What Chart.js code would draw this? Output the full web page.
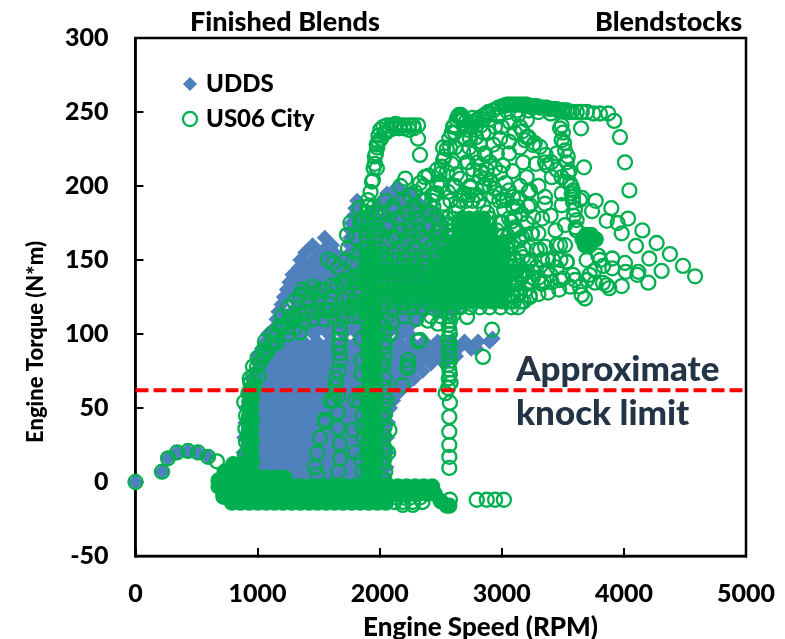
<!DOCTYPE html>
<html>
<head>
<meta charset="utf-8">
<script src="https://cdn.jsdelivr.net/npm/chart.js@4"></script>
<style>
  html, body { margin: 0; padding: 0; background: #fff; }
  #wrap { width: 785px; height: 639px; }
</style>
</head>
<body>
<div id="wrap"><canvas id="chart" width="785" height="639"></canvas></div>
<script>
const uddsBodyLow = [
  [0, 880,990,1100,1210,1320,1430,1540,1650,1760,1870,1980,2060],
  [5, 925,1045,1155,1265,1375,1485,1595,1705,1815,1925,2035],
  [10, 885,990,1100,1210,1320,1430,1540,1650,1760,1870,1980,2055],
  [15, 920,1045,1155,1265,1375,1485,1595,1705,1815,1925,2035],
  [20, 885,990,1100,1210,1320,1430,1540,1650,1760,1870,1980,2060],
  [25, 925,1045,1155,1265,1375,1485,1595,1705,1815,1925,2035],
  [30, 890,990,1100,1210,1320,1430,1540,1650,1760,1870,1980,2060],
  [35, 925,1045,1155,1265,1375,1485,1595,1705,1815,1925,2035],
  [40, 900,990,1100,1210,1320,1430,1540,1650,1760,1870,1980,2070],
  [45, 930,1045,1155,1265,1375,1485,1595,1705,1815,1925,2035],
  [50, 905,990,1100,1210,1320,1430,1540,1650,1760,1870,1980,2085],
  [55, 935,1045,1155,1265,1375,1485,1595,1705,1815,1925,2035,2110],
  [60, 925,990,1100,1210,1320,1430,1540,1650,1760,1870,1980,2090,2150],
  [65, 970,1045,1155,1265,1375,1485,1595,1705,1815,1925,2035,2145,2210],
  [70, 950,990,1100,1210,1320,1430,1540,1650,1760,1870,1980,2090,2200,2280],
  [75, 985,1045,1155,1265,1375,1485,1595,1705,1815,1925,2035,2145,2255,2350],
  [80, 1010,1100,1210,1320,1430,1540,1650,1760,1870,1980,2090,2200,2310,2420,2530],
  [85, 1005,1045,1155,1265,1375,1485,1595,1705,1815,1925,2035,2145,2255,2365,2475,2585,2625],
  [90, 1035,1100,1210,1320,1430,1540,1650,1760,1870,1980,2090,2200,2310,2420,2530,2640,2750,2790],
  [95, 1065,1155,1265,1375,1485,1595,1705,1815,1925,2035,2145,2255,2365,2475,2585,2695,2805,2900],
  [97, 2925]
];
const uddsBodyHigh = [
  [100, 1085,1220,1340,1460,1580,1700,1820,1940,2060,2180,2240],
  [105, 1150,1280,1400,1520,1640,1760,1880,2000,2120,2240],
  [110, 1155,1220,1340,1460,1580,1700,1820,1940,2060,2180,2300],
  [115, 1170,1280,1400,1520,1640,1760,1880,2000,2120,2240,2360,2480,2600],
  [120, 1195,1340,1460,1580,1700,1820,1940,2060,2180,2300,2420,2540,2650],
  [125, 1215,1280,1400,1520,1640,1760,1880,2000,2120,2240,2360,2480,2600,2680],
  [130, 1240,1340,1460,1580,1700,1820,1940,2060,2180,2300,2420,2540,2660,2700],
  [135, 1260,1280,1400,1520,1640,1760,1880,2000,2120,2240,2360,2480,2600,2680],
  [140, 1285,1340,1460,1580,1700,1820,1940,2060,2180,2300,2420,2540,2620],
  [145, 1340,1400,1520,1640,1760,1880,2000,2120,2240,2360,2480,2600],
  [150, 1350,1460,1580,1640,1700,1820,1940,2060,2180,2300,2420,2540,2600],
  [155, 1390,1520,1625,1760,1880,2000,2120,2240,2360,2480,2570],
  [160, 1450,1580,1610,1760,1820,1940,2060,2180,2300,2420,2550],
  [165, 1550,1760,1880,2000,2120,2240,2360,2480,2530],
  [170, 1765,1820,1940,2060,2180,2300,2420,2530],
  [175, 1770,1880,2000,2120,2240,2360,2500],
  [180, 1790,1820,1940,2060,2180,2300,2420,2470],
  [185, 1800,1970,2050,2120,2240,2360,2400],
  [190, 1815,2020,2060,2180,2300],
  [195, 2060,2130,2200,2260],
  [199, 2140]
];
const uddsLaunch = [[0,0],[217,7],[266,16],[340,20],[430,21],[512,20],[594,17]];

// parts of the US06 cloud where the rings overlap into solid green
const us06Solid = [
  [-14, 790,860,930,1000,1070,1140,1210,1280,1350,1420,1490,1560,1630,1700,1770,1840,1910,1980,2050],
  [-10, 720,790],
  [-8, 720,780,850,920,990,1060,1130,1200,1270,1340,1410,1480,1550,1620,1690,1760,1830,1900,1970,2040,2110,2180,2250,2320,2390,2450],
  [-3, 680,750,820,890,960,1030,1100,1170,1240,1310,1380,1450,1520,1590,1660,1730,1800,1870,1940,2010,2080,2150,2220,2290,2360,2430],
  [1, 680,750,810,870],[3, 1010,1080,1150,1220],[7, 730,790,850],[12, 800,860],
  [-13, 2500],[-16, 2550,2570],
  [0, 955],[7, 950],[14, 955],[21, 950],[28, 955],[35, 950],[42, 955],[49, 950],[56, 955],[63, 950],
  [0, 1910,1965],[7, 1905,1960],[14, 1910,1965],[21, 1905,1960],[28, 1910,1965],[35, 1905,1960],[42, 1910,1965],
  [49, 1905,1960],[56, 1910,1965],[63, 1905,1960],[70, 1910,1965],[77, 1905,1960],[84, 1910,1965],[91, 1905,1960],
  [98, 1910,1965],[105, 1905,1960],[112, 1910,1965],[119, 1905,1960],[126, 1910,1965],[133, 1905,1960],[140, 1910,1965],
  [147, 1905,1960],[154, 1910,1965],
  [122, 2440,2520,2600,2680,2760,2840,2920,3000],
  [130, 2040,2110,2180,2250,2320,2390,2460,2530,2600,2670,2740,2810,2880,2950,3020],
  [138, 2420,2490,2560,2630,2700,2770,2840,2910,2980,3040],
  [146, 2440,2510,2580,2650,2720,2790,2860,2930,3000],
  [154, 2530,2600,2670,2740,2810,2880,2950,3020],
  [162, 2590,2660,2730,2800,2870,2940,3010],
  [170, 2650,2710,2780,2850,2910],
  [178, 2670,2730,2800,2850],
  [160, 3680,3720],[164, 3660,3700,3740,3770],[167, 3690,3730]
];
const us06Launch = [[0,0],[217,7],[266,16],[340,20],[430,21],[512,20],[594,17],[667,14]];
const us06Idle = [
  [-13.5, 2120,2190,2272,2350],
  [-10.5, 2060,2140,2200,2250,2330],
  [-6, 2280,2350,2410]
];
const us06Column1000 = [
  [0, 905,935],[6, 925],[9, 900,932],[15, 925],[18, 895,932],[24, 928],[27, 905,930],[33, 925],
  [36, 900,930],[42, 925],[45, 905,930],[51, 935],[54, 890,932],[60, 925],[63, 945,965]
];
const us06Column2000 = [
  [1, 2040],[7, 1860,2045],[13, 2030],[16, 2040],[22, 2045],[25, 2030],[31, 2035],[37, 1860,2040],[43, 2025],
  [46, 2045],[52, 2030],[55, 1840],[58, 2040],[64, 2030],[70, 2040],[73, 1850],[79, 2030],[82, 1850],[85, 2040],
  [91, 2040],[97, 1850],[100, 2035],[106, 2020],[158, 1900,1960],[162, 1905,1955],
  [166, 1895,1965],[170, 1910,1950],[174, 1900,1960],[178, 1905,1955],[182, 1895,1965],[186, 1910,1950]
];
const us06Column2575 = [
  [9.5, 2570],[17, 2570],[25, 2570],[34, 2570],[44, 2570],[53.6, 2575],[60, 2540],[63.5, 2560],
  [67, 2580],[70, 2565],[73, 2575],[76, 2570],[79, 2560],[82, 2575],[85, 2570],[88, 2565],
  [91, 2575],[94, 2570],[97, 2560],[100, 2575],[103, 2570],[106, 2565],[109, 2575],[112, 2570],[115, 2565]
];
const us06Mass = [
  [118, 1860,1960,2030,2110,2190,2270,2350,2500,2580,2660,2740,2820,2900,2990,3080,3133],
  [122, 1790,1860,2055,2120,2185,2250,2315,2380,3060,3100,3180],
  [126, 1740,1810,2005,2070,2135,2200,2265,2330,2395,3050,3130,3230],
  [134, 1700,1790,1870,2000,2065,2130,2195,2260,2325,2390,3080,3120,3210,3326],
  [138, 1781,1850,2010,2105,2170,2235,2300,2365,3080,3160,3256],
  [142, 1880,2010,2075,2140,2205,2270,2335,2400,3050,3120,3210],
  [146, 2030,2095,2160,2225,2290,2355,3070,3140],
  [150, 1885,2050,2130,2200,2290,2380,2450,3100],
  [154, 2020,2110,2240,2350,2460,3060],
  [158, 1875,2000,2160,2290,2410,2520,3040],
  [162, 2060,2220,2380,2500,3050],
  [166, 2110,2270,2450,2560,3010],
  [170, 1990,2180,2320,2480,2590,2960],
  [174, 2060,2250,2400,2540,2610,2900],
  [178, 2140,2320,2460,2600,2900],
  [182, 2000,2230,2380,2620,2880],
  [186, 2109,2290,2440,2640,2850],
  [190, 2048,2190,2350,2660,2710,2760,2810],
  [194, 2248,2430,2680,2730,2790],
  [200, 2170,2360,2500,2620,2740,2860]
];
const us06RightTop = [
  [2617,226],[2683,233],[2754,240],[2820,246],[2860,248],[2890,250],[2930,251],[2972,253],[3005,254],[3041,255],
  [3080,255],[3123,255],[3165,255],[3205,255],[3246,254],[3287,254],[3328,253],[3368,253],[3410,252],[3450,252],
  [3490,251],[3533,251],[3575,250],[3614,250],[3655,250],[3697,250],[3750,249],[3804,249],[3872,249],[3921,244],
  [3968,233],[4009,216],[4045,197],[2700,240],[2760,246],[2830,241],[2900,245],[2970,247],[3050,250],[3130,251],
  [3220,251],[3300,250],[3400,249],[3020,254],[3060,255],[3100,255],[3145,255],[3185,255],[3225,254],[3270,254],
  [3310,253],[3350,253],[3390,252],[3430,252],[3470,251],[3510,251],[3555,250]
];
const us06RightFan = [
  [4583,139],[4484,146],[4377,154],[4268,161.5],[4151,170],[4034,178],[3897,185],[3769,190],[3739,183],[3859,176.5],
  [3949,175],[3982,168],[4099,159.5],[4208,151],[4309,142.6],[4200,134.7],[4110,140],[4118,142],[4009,148],[4015,142],
  [3905,151],[3905,144.4],[3982,132.4],[3880,131],[3859,133],[3763,134.7],[3681,124],[3654,126.4],[3600,136.5],[3504,137.6],
  [3409,135],[3326,134],[3790,153],[3804,150],[3695,150],[3532,149],[3477,160],[3354,159],[3286,157],[3720,140],
  [3640,132],[3560,132],[3470,130],[3380,128],[3300,127],[3230,125],[3160,122],[3760,143],[3830,146]
];
const us06RightColumn = [
  [3613,170],[3613,177],[3600,184],[3583,189],[3572,195],[3558,202],[3542,209],[3532,216],[3518,224],[3490,231],
  [3477,239],[3490,241],[3500,236],[3510,229],[3540,220],[3555,210],[3570,200],[3590,180],[3605,172],[3673,212.6],[3649,239]
];
const us06UpperScatter = [
  [3313,226.5],[3368,214],[3409,206],[3354,188],[3518,173.6],[3174,216],[3204,206],[3218,196],[3231,187],[3258,179],
  [3245,167.6],[3190,167],[3149,240],[3204,233],[3256,227.7],[2930,228],[2876,211],[2713,216],[2765,211],[2847,199.5],
  [2930,193],[3010,190.5],[3092,186],[3108,179],[2999,175],[3051,166],[2683,244.6],[2617,236],[2576,226],[2519,217.5],
  [2470,211],[2683,223],[2723,216],[2822,228],[2863,221],[2960,222],[2888,236],[2945,240],[2986,232],[3067,243],
  [3133,248],[3205,244.6],[3108,236],[3149,226],[3190,231],[3354,216],[3450,222],[3133,192],[3231,197],[3215,186],
  [3354,192.6],[3491,195],[3491,187],[3583,192.6],[3657,192],[2986,195],[2740,199],[2822,206],[2904,204],[3042,190.5],
  [2986,175.6],[3108,172],[3165,165.5],[3247,168],[3173,152],[3215,148],[3149,155],[3313,157],[3450,160],[3518,160],
  [3378,150],[3256,142],[3368,143],[3532,148.6],[3477,136.5],[3583,140],[3697,136.5],[3829,134.5],[3300,200],[3280,215],
  [3400,180],[3440,170],[3330,178],[3300,168],[2430,190],[2494,203],[2551,209.5],[2519,226],[2601,240],[2674,247],
  [2640,247],[2710,244],[3060,230],[3010,214],[3090,210],[3150,200],[3000,240],[3060,222]
];
const us06UpperChains = [
  [3170,237],[3220,233],[3270,229],[3360,221],[3405,216],[3450,211],[3490,206],[3530,203],[3583,197],[3640,190.5],
  [2860,222],[2905,216],[2945,212],[2986,209],[3030,202],[3060,197],[3092,192.6],[3130,186],[3165,181],[3204,175],
  [2700,232],[2735,226],[2770,222],[2800,216],[2830,210],[2870,205],[2900,200],[2940,198],[2980,190],[3020,184],[3060,178],[3100,170],[3140,163],
  [2450,195],[2470,201],[2490,208],[2510,213],[2530,220],[2550,225],[2570,232],[2590,236],[2610,241],[2630,245],[2650,248],[2665,248],[2680,246],
  [2720,238],[2760,243],[2800,245],[2840,247],[2880,249],[2780,238],[2740,232],[2790,233],[2850,236]
];
const us06MidFill = [
  [3050,150],[3080,160],[3110,150],[3130,135],[3170,140],[3200,130],[3240,135],[3240,150],[3280,145],[3300,138],
  [3330,150],[3350,135],[3400,140],[3420,150],[3450,145],[3480,150],[3090,125],[3150,128],[3060,135],[3100,142],
  [3140,146],[3180,158],[3120,170],[3080,176],[2070,172],[2130,165],[2190,178],[2250,170],[2300,183],[2340,165],
  [2400,172],[2360,190],[2420,182],[2470,178],[2520,188],[2560,196],[2290,196],[2210,205],[2330,202],[2400,207],
  [2470,195],[2500,170],[2440,160],[2550,178],[2580,190],[2600,200],[2630,208],[2660,205],[2690,195],[2590,215]
];
const us06KneeArc = [
  [1900,186],[1925,196],[1945,204],[1950,212],[1960,220],[1975,228],[1990,234],[2005,238],[2030,240],[2060,241],
  [2095,241],[2130,242],[2165,241],[2200,241],[2240,241],[2275,241],[2314,241],[2314,232],[2330,221],[2370,206],
  [1863,178],[1904,190.5],[1937,203],[1977,212],[2010,232],[2050,236],[1732,167],[1740,158],[1855,177],[2109,184],[2248,194],
  [1960,215],[1970,222],[1980,226],[1990,230],[2040,236],[2080,238],[2120,239],[2160,239],[2200,239],[2240,238],[2280,239]
];
const us06LowerArc = [
  [940,67],[965,72],[995,78],[1020,81],[1050,85],[1080,88],[1126,94],[1160,99],[1200,104],[1240,108],
  [1265,110],[1310,112],[1350,113],[1405,114],[1450,115],[1500,116],[1550,116],[1593,116],[1660,117],[1733,118],
  [1800,118],[962,78],[1045,89],[1159,94],[1290,111],[1347,101],[1454,132],[1413,124],[1372,130],[1511,130],
  [1609,133],[1691,134.5],[1593,120],[1699,123],[1814,118],[1577,150],[1618,148],[1183,105],[1100,92],[1010,72],
  [1200,112],[1250,118],[1300,122],[1350,126],[1400,128],[1480,128],[1540,130],[1650,132],[1740,136],[1820,138],
  [1860,140],[1250,100],[1300,104],[1380,108],[1450,110],[1550,110],[1620,112],[1700,112],[1780,112],[1840,112],
  [1120,100],[1060,95],[1000,84],[970,65],[935,70],[1660,145],[1720,150],[1780,148],[1830,155],[1800,165],
  [1760,175],[1840,175],[1830,185],[1790,135],[1600,125],[1500,122]
];
const us06MidColumns = [
  [1675,105],[1675,101],[1670,96],[1668,92],[1672,87],[1675,82],[1660,75],[1640,70],[1640,65],[1630,60],
  [1593,55],[1552,42],[1511,30],[1552,40.5],[1487,19.6],[1470,10],[1658,47],[1658,36.5],[1675,26],
  [1675,16],[1658,7],[1620,55],[1660,58],[1490,5],[2043,95],[2232,82.4],[2224,77],[2314,95],[2330,96],
  [2232,79],[2183,65.5],[2396,109],[2477,107],[2715,111.5],[1800,20],[1780,35],[1800,55],[2080,35],
  [1850,60],[1860,45],[1870,30],[1850,15],[2060,55],[2070,20],[2010,80],[2010,45],[2010,12],[2050,110],[2090,100],
  [2100,108],[2200,112],[2300,110],[2420,112],[2500,112],[2600,113]
];
const us06Stray = [
  [2920,103],[2846,84.5],[2795,-12],[2877,-12],[2945,-12],[3017,-12],[2575,-12],[2190,-15.5],[2272,-15.5]
];
const limitRpm = [0, 5000];
const limitTorque = [62, 62];
const xTicks = [0, 1000, 2000, 3000, 4000, 5000];
const yTicks = [-50, 0, 50, 100, 150, 200, 250, 300];

function fromRows(rows) {
  const out = [];
  rows.forEach(r => r.slice(1).forEach(rpm => out.push({x: rpm, y: r[0]})));
  return out;
}
function fromPairs(pairs) {
  return pairs.map(p => ({x: p[0], y: p[1]}));
}

const uddsPoints = [...fromPairs(uddsLaunch), ...fromRows(uddsBodyLow), ...fromRows(uddsBodyHigh)];
const launchPoints = fromPairs(us06Launch);
const solidPoints = fromRows(us06Solid);
const us06Points = [
  ...launchPoints, ...solidPoints,
  ...fromRows(us06Idle), ...fromRows(us06Column1000), ...fromRows(us06Column2000),
  ...fromRows(us06Column2575), ...fromRows(us06Mass), ...fromPairs(us06RightTop),
  ...fromPairs(us06RightFan), ...fromPairs(us06RightColumn), ...fromPairs(us06UpperScatter), ...fromPairs(us06UpperChains),
  ...fromPairs(us06MidFill), ...fromPairs(us06KneeArc), ...fromPairs(us06LowerArc), ...fromPairs(us06MidColumns), ...fromPairs(us06Stray)
];
const solidStart = launchPoints.length;
const solidEnd = solidStart + solidPoints.length;

const notes = [
  {text: "Finished Blends", x: 190, y: 31, size: 27, color: "#000", rot: 0},
  {text: "Blendstocks", x: 595, y: 31, size: 27, color: "#000", rot: 0},
  {text: "Approximate", x: 516, y: 381, size: 35, color: "#243447", rot: 0},
  {text: "knock limit", x: 516, y: 425, size: 35, color: "#243447", rot: 0},
  {text: "Engine Speed (RPM)", x: 363, y: 636, size: 26, color: "#000", rot: 0},
  {text: "Engine Torque (N*m)", x: 43, y: 443, size: 22, color: "#000", rot: -Math.PI / 2}
];

const extras = {
  id: "extras",
  afterLayout(chart) {
    // legend sits inside the plot, up and to the right of the corner
    chart.legend.left += 39.5;
    chart.legend.right += 39.5;
    chart.legend.top += 61;
    chart.legend.bottom += 61;
  },
  beforeDatasetsDraw(chart) {
    const a = chart.chartArea, c = chart.ctx;
    c.save();
    c.strokeStyle = "#000";
    c.lineWidth = 2.5;
    c.strokeRect(a.left, a.top, a.right - a.left, a.bottom - a.top);
    c.restore();
  },
  afterDraw(chart) {
    const c = chart.ctx;
    notes.forEach(n => {
      c.save();
      c.textAlign = "left";
      c.textBaseline = "alphabetic";
      c.font = "900 " + n.size + "px Lato";
      c.fillStyle = n.color;
      c.translate(n.x, n.y);
      c.rotate(n.rot);
      c.fillText(n.text, 0, 0);
      c.restore();
    });
  }
};

new Chart(document.getElementById("chart"), {
  type: "scatter",
  data: {
    datasets: [
      {
        label: "UDDS",
        data: uddsPoints,
        pointStyle: "rectRot",
        pointRadius: 8,
        pointBackgroundColor: "#4f81bd",
        pointBorderColor: "#4f81bd",
        pointBorderWidth: 0,
        backgroundColor: "#4f81bd",
        borderColor: "#4f81bd",
        borderWidth: 0,
        clip: false,
        order: 3
      },
      {
        label: "US06 City",
        data: us06Points,
        pointStyle: "circle",
        pointRadius: 7,
        pointBackgroundColor: c => (c.dataIndex >= solidStart && c.dataIndex < solidEnd ? "#00b050" : "transparent"),
        pointBorderColor: "#00b050",
        pointBorderWidth: 2.3,
        backgroundColor: "transparent",
        borderColor: "#00b050",
        borderWidth: 2.3,
        clip: false,
        order: 2
      },
      {
        label: "Approximate knock limit",
        data: limitRpm.map((r, i) => ({x: r, y: limitTorque[i]})),
        showLine: true,
        pointRadius: 0,
        borderColor: "#ff0000",
        borderWidth: 4,
        borderDash: [13, 5],
        clip: false,
        order: 1
      }
    ]
  },
  plugins: [extras],
  options: {
    responsive: false,
    animation: false,
    layout: {padding: {top: 38, right: 39, left: 0, bottom: 0}},
    plugins: {
      title: {display: false},
      tooltip: {enabled: false},
      legend: {
        position: "chartArea",
        align: "start",
        labels: {
          filter: item => item.text !== "Approximate knock limit",
          sort: (a, b) => a.datasetIndex - b.datasetIndex,
          usePointStyle: true,
          boxWidth: 8,
          boxHeight: 10,
          padding: 11,
          color: "#000",
          font: {family: "Lato", size: 24, weight: 900}
        }
      }
    },
    scales: {
      x: {
        type: "linear",
        min: 0,
        max: 5000,
        afterFit: s => { s.height = 83; s.paddingLeft = 0; s.paddingRight = 0; },
        afterBuildTicks: s => { s.ticks = xTicks.map(v => ({value: v})); },
        border: {display: true, color: "#000", width: 2.5},
        grid: {drawOnChartArea: false, drawTicks: true, tickLength: -8, color: "#000", lineWidth: 2},
        ticks: {padding: 31, maxRotation: 0, callback: v => String(v), color: "#000", font: {family: "Lato", size: 25, weight: 900}}
      },
      y: {
        type: "linear",
        min: -50,
        max: 300,
        afterFit: s => { s.width = 135.5; s.paddingTop = 0; s.paddingBottom = 0; },
        afterBuildTicks: s => { s.ticks = yTicks.map(v => ({value: v})); },
        border: {display: true, color: "#000", width: 2.5},
        grid: {drawOnChartArea: false, drawTicks: true, tickLength: -8, color: "#000", lineWidth: 2},
        ticks: {padding: 35, callback: v => String(v), color: "#000", font: {family: "Lato", size: 25, weight: 900}}
      }
    }
  }
});
</script>
</body>
</html>
